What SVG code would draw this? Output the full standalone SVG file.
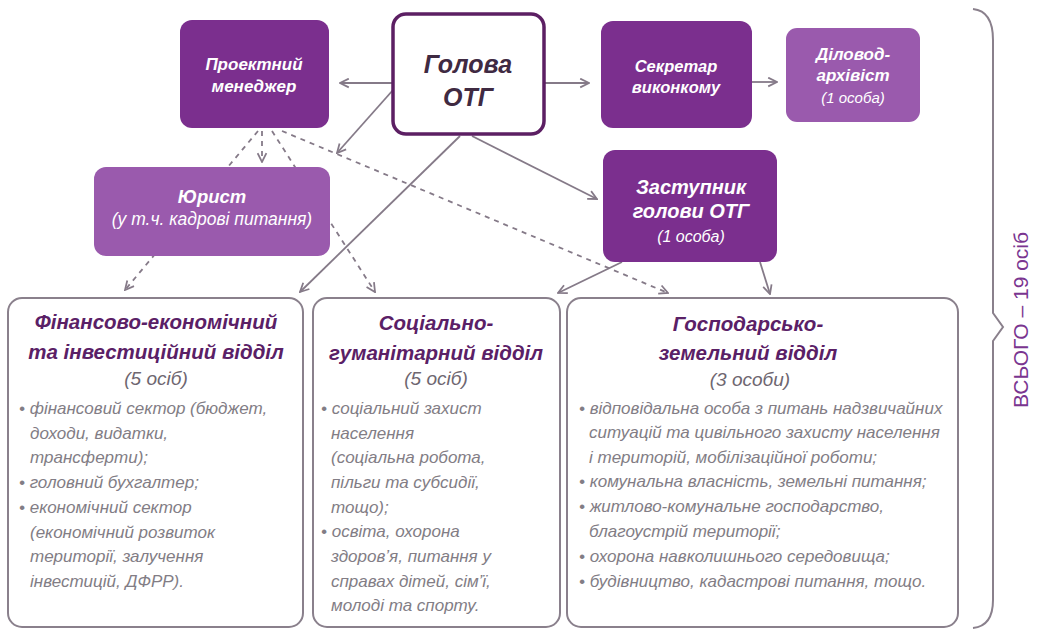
<svg xmlns="http://www.w3.org/2000/svg" width="1040" height="632" viewBox="0 0 1040 632">
  <style>
    text { font-family: "Liberation Sans", Arial, sans-serif; font-style: italic; }
    .dark { fill: #7b2f8e; }
    .light { fill: #9a5aad; }
    .wt { fill: #ffffff; font-weight: bold; font-size: 16.5px; text-anchor: middle; }
    .wn { fill: #ffffff; font-size: 15px; text-anchor: middle; }
    .head { fill: #3f2a42; font-weight: bold; font-size: 25px; text-anchor: middle; }
    .dept { fill: #ffffff; stroke: #8a808c; stroke-width: 2; }
    .title { fill: #5a2066; font-weight: bold; font-size: 20.5px; text-anchor: middle; }
    .count { fill: #6e6670; font-size: 19px; text-anchor: middle; }
    .item { fill: #827d85; font-size: 17px; }
    .link { fill: none; stroke: #857a88; stroke-width: 1.8; }
    .dash { stroke-dasharray: 5 5; }
    .brace { fill: none; stroke: #8a808c; stroke-width: 2; }
    .total { fill: #7a3590; font-style: normal; font-size: 21px; text-anchor: middle; }
  </style>
  <defs>
    <marker id="arrow" viewBox="0 0 10 10" refX="9" refY="5" markerWidth="11" markerHeight="11" markerUnits="userSpaceOnUse" orient="auto">
      <path d="M1,1 L9,5 L1,9" fill="none" stroke="#857a88" stroke-width="1.6"/>
    </marker>
  </defs>

  <rect width="1040" height="632" fill="#ffffff"/>

  <!-- connectors -->
  <g id="connectors">
    <line class="link" x1="392" y1="83" x2="340" y2="83" marker-end="url(#arrow)"/>
    <line class="link" x1="545" y1="83" x2="589" y2="83" marker-end="url(#arrow)"/>
    <line class="link" x1="752" y1="82" x2="777" y2="82" marker-end="url(#arrow)"/>
    <line class="link" x1="393" y1="90" x2="337" y2="153" marker-end="url(#arrow)"/>
    <line class="link" x1="460" y1="136" x2="300" y2="292" marker-end="url(#arrow)"/>
    <line class="link" x1="472" y1="136" x2="597" y2="199" marker-end="url(#arrow)"/>
    <line class="link" x1="622" y1="262" x2="558" y2="293" marker-end="url(#arrow)"/>
    <line class="link" x1="760" y1="262" x2="770" y2="294" marker-end="url(#arrow)"/>
    <line class="link dash" x1="262" y1="131" x2="262" y2="162" marker-end="url(#arrow)"/>
    <line class="link dash" x1="258" y1="131" x2="125" y2="290" marker-end="url(#arrow)"/>
    <line class="link dash" x1="272" y1="131" x2="375" y2="292" marker-end="url(#arrow)"/>
    <line class="link dash" x1="282" y1="131" x2="668" y2="293" marker-end="url(#arrow)"/>
  </g>

  <g id="project-manager">
    <rect class="dark" x="180" y="20" width="149" height="108" rx="12"/>
    <text class="wt" x="254" y="70" style="font-size:17px">Проектний</text>
    <text class="wt" x="254" y="92" style="font-size:17px">менеджер</text>
  </g>

  <g id="head">
    <rect x="393" y="14" width="151" height="120" rx="13" fill="#ffffff" stroke="#5c1f63" stroke-width="3.5"/>
    <text class="head" x="468" y="73">Голова</text>
    <text class="head" x="468" y="106">ОТГ</text>
  </g>

  <g id="secretary">
    <rect class="dark" x="601" y="21" width="151" height="107" rx="12"/>
    <text class="wt" x="676" y="72">Секретар</text>
    <text class="wt" x="676" y="93">виконкому</text>
  </g>

  <g id="archivist">
    <rect class="light" x="786" y="28" width="134" height="94" rx="11"/>
    <text class="wt" x="853" y="60" style="font-size:17px">Діловод-</text>
    <text class="wt" x="853" y="81" style="font-size:17px">архівіст</text>
    <text class="wn" x="853" y="103">(1 особа)</text>
  </g>

  <g id="lawyer">
    <rect class="light" x="94" y="167" width="236" height="89" rx="12"/>
    <text class="wt" x="212" y="203" style="font-size:18.5px">Юрист</text>
    <text class="wn" x="212" y="225" style="font-size:17.5px">(у т.ч. кадрові питання)</text>
  </g>

  <g id="deputy">
    <rect class="dark" x="603" y="150" width="174" height="112" rx="12"/>
    <text class="wt" x="691" y="194" style="font-size:20px">Заступник</text>
    <text class="wt" x="691" y="218" style="font-size:20px">голови ОТГ</text>
    <text class="wn" x="691" y="242" style="font-size:16px">(1 особа)</text>
  </g>

  <g id="finance-dept">
    <rect class="dept" x="8" y="298" width="295" height="329" rx="14"/>
    <text class="title" x="156" y="329">Фінансово-економічний</text>
    <text class="title" x="156" y="359">та інвестиційний відділ</text>
    <text class="count" x="156" y="385">(5 осіб)</text>
    <text class="item" x="19" y="414">• фінансовий сектор (бюджет,</text>
    <text class="item" x="30" y="439">доходи, видатки,</text>
    <text class="item" x="30" y="463">трансферти);</text>
    <text class="item" x="19" y="488">• головний бухгалтер;</text>
    <text class="item" x="19" y="513">• економічний сектор</text>
    <text class="item" x="30" y="538">(економічний розвиток</text>
    <text class="item" x="30" y="562">території, залучення</text>
    <text class="item" x="30" y="587">інвестицій, ДФРР).</text>
  </g>

  <g id="social-dept">
    <rect class="dept" x="313" y="298" width="247" height="329" rx="14"/>
    <text class="title" x="436" y="330">Соціально-</text>
    <text class="title" x="436" y="360">гуманітарний відділ</text>
    <text class="count" x="436" y="385">(5 осіб)</text>
    <text class="item" x="321" y="414">• соціальний захист</text>
    <text class="item" x="331" y="439">населення</text>
    <text class="item" x="331" y="463">(соціальна робота,</text>
    <text class="item" x="331" y="488">пільги та субсидії,</text>
    <text class="item" x="331" y="513">тощо);</text>
    <text class="item" x="321" y="537">• освіта, охорона</text>
    <text class="item" x="331" y="562">здоров’я, питання у</text>
    <text class="item" x="331" y="587">справах дітей, сім’ї,</text>
    <text class="item" x="331" y="611">молоді та спорту.</text>
  </g>

  <g id="economy-dept">
    <rect class="dept" x="567" y="298" width="391" height="329" rx="14"/>
    <text class="title" x="748" y="331">Господарсько-</text>
    <text class="title" x="748" y="360">земельний відділ</text>
    <text class="count" x="750" y="386">(3 особи)</text>
    <text class="item" x="579" y="414">• відповідальна особа з питань надзвичайних</text>
    <text class="item" x="589" y="438">ситуацій та цивільного захисту населення</text>
    <text class="item" x="589" y="463">і територій, мобілізаційної роботи;</text>
    <text class="item" x="579" y="487">• комунальна власність, земельні питання;</text>
    <text class="item" x="579" y="512">• житлово-комунальне господарство,</text>
    <text class="item" x="589" y="537">благоустрій території;</text>
    <text class="item" x="579" y="562">• охорона навколишнього середовища;</text>
    <text class="item" x="579" y="587">• будівництво, кадастрові питання, тощо.</text>
  </g>

  <g id="total">
    <path class="brace" d="M973,9 Q993,11 993,40 L993,313 L1003,327 L993,341 L993,600 Q993,626 973,628"/>
    <text class="total" transform="translate(1028,320) rotate(-90)">ВСЬОГО – 19 осіб</text>
  </g>
</svg>
